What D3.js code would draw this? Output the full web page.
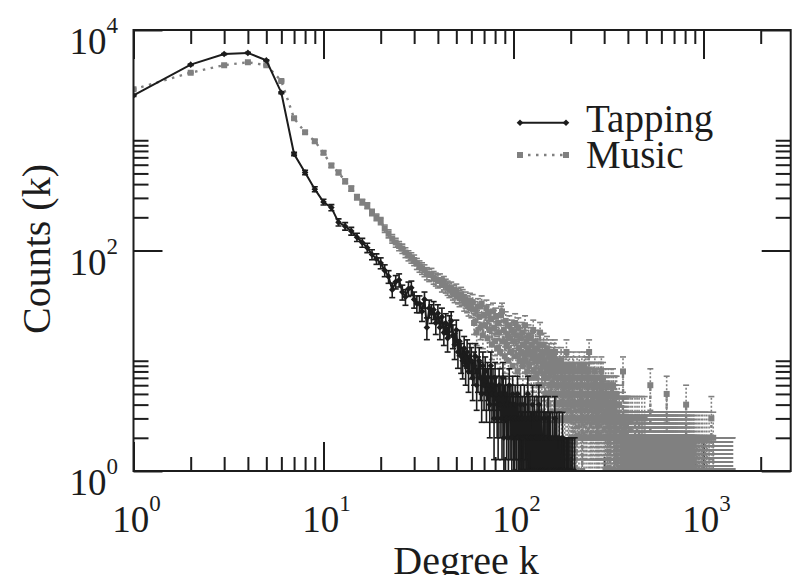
<!DOCTYPE html>
<html><head><meta charset="utf-8">
<script src="https://cdn.jsdelivr.net/npm/d3@7"></script>
<style>
html,body{margin:0;padding:0;background:#fff;}
svg{display:block;font-family:"Liberation Serif","Times New Roman",serif;}
</style></head><body>
<svg id="chart" width="799" height="575"></svg>
<script>
// ---------------- data ----------------
const seriesNames = ["Tapping", "Music"];
// Tapping counts for degree k = 1..210 (0 = no point)
const tappingCounts = [
2550,4850,6050,6200,5300,2700,750,510,360,275,
245,180,166,150,132,118,106,92,84,77,
66,58,44,52,54,42,38,45,46,36,
33,33,28,36,20,30,27,29,22,27,
20,25,18,22,16,21,23,17,14,19,
12,15,11,10,13,9,12,8,11,10,
7,9,11,6,8,10,7,5,9,6,
8,5,7,6,4,9,5,6,3,7,
5,4,3,6,4,5,3,7,2,4,
5,3,4,2,6,3,4,2,5,3,
1,4,3,2,5,2,3,1,4,2,
3,2,1,4,2,3,1,2,5,2,
1,3,2,2,1,4,2,1,3,2,
1,2,3,1,2,4,1,2,1,3,
2,1,1,2,3,1,0,2,1,2,
1,3,1,0,2,1,2,1,0,1,
2,1,1,0,3,1,0,1,2,1,
0,1,1,2,0,1,0,1,1,0,
2,0,1,0,1,0,1,0,0,1,
0,1,0,0,1,0,0,1,0,0,
1,0,0,0,1,0,0,0,0,1];
// Music counts for degree k = 1..200
const musicHeadCounts = [
2900,4100,4800,5100,4800,3450,1580,1180,980,770,
590,510,425,365,305,275,255,222,200,185,
158,142,128,118,110,104,96,90,86,82,
76,72,69,66,62,60,61,57,55,53,
54,49,51,48,46,44,45,42,40,43,
39,37,40,38,34,36,33,31,35,30,
34,22,29,18,31,25,20,33,17,26,
21,30,16,27,19,24,14,28,20,15,
25,13,22,18,12,26,28,15,19,11,
23,14,17,10,21,16,12,19,9,18,
15,22,11,17,8,20,13,10,16,12,
18,9,14,11,21,10,15,8,13,17,
9,12,16,7,14,11,19,8,12,10,
15,7,11,13,6,10,14,18,8,12,
6,11,9,14,7,10,5,12,8,13,
7,9,4,11,8,6,12,5,9,10,
6,8,11,5,12,7,4,9,6,10,
5,8,6,3,9,7,5,10,4,8,
6,3,9,5,7,4,8,6,3,12,
5,7,3,9,4,6,8,3,5,7];
// Music counts for degree k = 201..1420, one base-36 character per k (0 = no point)
const musicTailStart = 201;
const musicTailCodes = [
"5273849263 7425183647 2946357281 6437295384 263847258c",
"4263725374 2637452863 5243726342 7325463728 3546273452",
"3524163425 2415362431 5231426342 2436251423 1425324153",
"2312321324 3213212312 3212128213 2132131231 2312132123",
"2121321212 1212312121 2131212121 1212131212 2121213121",
"1212121321 2121212112 1213121212 2112121213 1212112121",
"2121121212 1212112121 2121612121 1212121121 2112121212",
"1211212121 2121121212 1121212112 2112121211 1212112121",
"2112121121 1211212112 2121121211 1212112125 2112121121",
"1211211212 2112121121 1212112112 2111212112 1121121211",
"2112111212 1121211121 2111211212 1121112111 2111211121",
"1211121112 1112111211 2111211121 1121111211 1211121111",
"2111211114 1121111211 1112111121 1111211112 1211111121",
"1111211111 2111111211 1111121111 1211111112 1111211111",
"1111111211 1111011111 1121111101 1111111121 1101111111",
"1111211110 1111111111 0111121111 1111101111 1211111011",
"1110111111 1111112111 1011111101 1111111111 2111011111",
"1101111111 1111011112 1111111011 1110111111 1111101113",
"1111011111 1011111110 1111211111 0111110111 1111111011",
"1101111101 1111011111 1011111111 1110111101 1111110111",
"1011111011 1111101111 0111111110 1111011111 1101111011",
"1111101111 1011110111 1111011101 1101111111 1110110111",
"1011111011 1111011111 1101101111 1111110111 1011101111",
"1110111101 1011111011 1101110111 1011011101 1110111011",
"1011101101 1101011001"];
const xMajorTicks = [1, 10, 100, 1000];
const xMinorTicks = [2,3,4,5,6,7,8,9,20,30,40,50,60,70,80,90,200,300,400,500,600,700,800,900,2000];
const yMajorTicks = [1, 100, 10000];
const yMinorTicks = [2,3,4,5,6,7,8,9,10,200,300,400,500,600,700,800,900,1000];
const xDomain = [1, 2877];
const yDomain = [1, 10000];
const xTitle = "Degree k";
const yTitle = "Counts (k)";

// ---------------- build series ----------------
const tapping = tappingCounts.map((c, i) => ({k: i + 1, c})).filter(d => d.c > 0);
const tailChars = musicTailCodes.join("").replace(/\s+/g, "").split("");
const music = musicHeadCounts.map((c, i) => ({k: i + 1, c}))
  .concat(tailChars.map((ch, i) => ({k: musicTailStart + i, c: parseInt(ch, 36)})))
  .filter(d => d.c > 0);

// ---------------- layout ----------------
const L = 133.5, R = 790.7, T = 30, B = 471;
const svg = d3.select("#chart");
const x = d3.scaleLog().domain(xDomain).range([L, R]);
const y = d3.scaleLog().domain(yDomain).range([B, T]);
const BLACK = "#1c1c1c", GRAY = "#808080";

svg.append("defs").append("clipPath").attr("id", "plotclip")
  .append("rect").attr("x", L).attr("y", T).attr("width", R - L).attr("height", B - T);

// ---------------- axes (ticks inward, mirrored) ----------------
function tickAxis(axis, values, size, tx, ty) {
  const g = svg.append("g").attr("transform", `translate(${tx},${ty})`)
    .call(axis.tickValues(values).tickSize(size).tickFormat(""));
  g.select(".domain").remove();
  g.selectAll("line").attr("stroke", BLACK).attr("stroke-width", 2);
  return g;
}
tickAxis(d3.axisBottom(x), xMinorTicks, -14, 0, B);
tickAxis(d3.axisBottom(x), xMajorTicks, -29, 0, B);
tickAxis(d3.axisTop(x), xMinorTicks, -14, 0, T);
tickAxis(d3.axisTop(x), xMajorTicks, -29, 0, T);
tickAxis(d3.axisLeft(y), yMinorTicks, -15, L, 0);
tickAxis(d3.axisLeft(y), yMajorTicks, -29, L, 0);
tickAxis(d3.axisRight(y), yMinorTicks, -15, R, 0);
tickAxis(d3.axisRight(y), yMajorTicks, -29, R, 0);

// ---------------- data ----------------
const plot = svg.append("g").attr("clip-path", "url(#plotclip)");
const line = d3.line().x(d => x(d.k)).y(d => y(d.c));
function errLo(c) { const v = c - Math.sqrt(c); return v > 0 ? y(v) : B + 20; }
function errHi(c) { return y(c + Math.sqrt(c)); }

function drawSeries(data, color, opts) {
  const g = plot.append("g");
  const eb = g.append("g").attr("stroke", color).attr("stroke-width", opts.ebWidth);
  eb.selectAll("line.v").data(data).join("line").attr("class", "v")
    .attr("x1", d => x(d.k)).attr("x2", d => x(d.k))
    .attr("y1", d => errLo(d.c)).attr("y2", d => errHi(d.c))
    .attr("stroke-dasharray", opts.ebDash);
  eb.selectAll("line.c").data(data).join("line").attr("class", "c")
    .attr("x1", d => x(d.k) - 3).attr("x2", d => x(d.k) + 3)
    .attr("y1", d => errHi(d.c)).attr("y2", d => errHi(d.c));
  eb.selectAll("line.c2").data(data.filter(d => d.c > 1)).join("line").attr("class", "c2")
    .attr("x1", d => x(d.k) - 3).attr("x2", d => x(d.k) + 3)
    .attr("y1", d => errLo(d.c)).attr("y2", d => errLo(d.c));
  g.append("path").datum(data).attr("d", line).attr("fill", "none")
    .attr("stroke", color).attr("stroke-width", opts.lineWidth)
    .attr("stroke-dasharray", opts.lineDash);
  g.append("g").selectAll("path").data(data).join("path")
    .attr("transform", d => `translate(${x(d.k)},${y(d.c)})`)
    .attr("d", opts.marker).attr("fill", color);
}
const diamond = "M0,-3.3L3.3,0L0,3.3L-3.3,0Z";
const square = "M-3,-3H3V3H-3Z";
drawSeries(music, GRAY, {ebWidth: 1.6, ebDash: "2,2", lineWidth: 2.4, lineDash: "2.5,5.5", marker: square});
drawSeries(tapping, BLACK, {ebWidth: 1.6, ebDash: null, lineWidth: 2, lineDash: null, marker: diamond});

// frame
svg.append("rect").attr("x", L).attr("y", T).attr("width", R - L).attr("height", B - T)
  .attr("fill", "none").attr("stroke", BLACK).attr("stroke-width", 2);

// ---------------- tick labels ----------------
function powLabel(sel, exp) {
  sel.append("tspan").text("10");
  sel.append("tspan").attr("dy", -21).attr("font-size", 23).text(String(exp));
}
svg.append("g").selectAll("text").data(xMajorTicks).join("text")
  .attr("x", d => x(d) + 3).attr("y", 532).attr("text-anchor", "middle")
  .attr("font-size", 37).attr("fill", BLACK)
  .each(function(d) { powLabel(d3.select(this), Math.round(Math.log10(d))); });
svg.append("g").selectAll("text").data(yMajorTicks).join("text")
  .attr("x", 118).attr("y", d => y(d) + 24).attr("text-anchor", "end")
  .attr("font-size", 37).attr("fill", BLACK)
  .each(function(d) { powLabel(d3.select(this), Math.round(Math.log10(d))); });

// ---------------- titles ----------------
svg.append("text").attr("x", 466).attr("y", 574).attr("text-anchor", "middle")
  .attr("font-size", 40).attr("fill", BLACK).text(xTitle);
svg.append("text").attr("transform", "translate(50,249) rotate(-90)").attr("text-anchor", "middle")
  .attr("font-size", 40).attr("fill", BLACK).text(yTitle);

// ---------------- legend ----------------
const legend = svg.append("g");
const legendRows = [
  {name: seriesNames[0], color: BLACK, dash: null, width: 2, marker: diamond, y: 122.7, ty: 131.7},
  {name: seriesNames[1], color: GRAY, dash: "2.5,5.5", width: 2.4, marker: square, y: 155, ty: 168.3}
];
legendRows.forEach(r => {
  legend.append("line").attr("x1", 520).attr("x2", 566).attr("y1", r.y).attr("y2", r.y)
    .attr("stroke", r.color).attr("stroke-width", r.width).attr("stroke-dasharray", r.dash);
  [520, 566].forEach(px => legend.append("path").attr("transform", `translate(${px},${r.y})`)
    .attr("d", r.marker).attr("fill", r.color));
  legend.append("text").attr("x", 586).attr("y", r.ty).attr("font-size", 39)
    .attr("fill", BLACK).text(r.name);
});
</script>
</body></html>
